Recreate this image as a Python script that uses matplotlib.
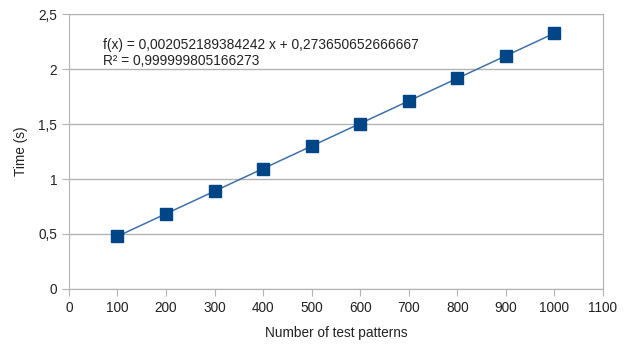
import matplotlib
matplotlib.use("Agg")
import numpy as np
import matplotlib.pyplot as plt
from matplotlib.ticker import FuncFormatter

plt.rcParams['font.family'] = ['Liberation Sans', 'DejaVu Sans']

patterns = [100, 200, 300, 400, 500, 600, 700, 800, 900, 1000]
times = [0.48, 0.68, 0.89, 1.09, 1.30, 1.50, 1.71, 1.92, 2.12, 2.33]
slope = 0.002052189384242
intercept = 0.273650652666667
r2 = 0.999999805166273

fig = plt.figure(figsize=(6.32, 3.44), dpi=100)
ax = fig.add_axes([0.109, 0.160, 0.845, 0.799])

# trend line
xs = np.array([patterns[0], patterns[-1]])
ax.plot(xs, slope * xs + intercept, color='#3f72a8', lw=1.1, zorder=3)
ax.plot(patterns, times, 's', color='#004586', ms=8.5, zorder=4)

ax.set_xlim(0, 1100)
ax.set_ylim(0, 2.5)
ax.set_xticks(np.arange(0, 1101, 100))
ax.set_yticks(np.arange(0, 2.51, 0.5))
comma = FuncFormatter(lambda v, p: ('%g' % v).replace('.', ','))
ax.xaxis.set_major_formatter(comma)
ax.yaxis.set_major_formatter(comma)
ax.yaxis.grid(True, color='#b3b3b3', lw=1)
ax.set_axisbelow(True)
for s in ax.spines.values():
    s.set_color('#b3b3b3')
ax.tick_params(colors='#b3b3b3', labelcolor='#222222', labelsize=9.8, length=5)

ax.set_xlabel('Number of test patterns', fontsize=9.8, color='#222222', labelpad=8)
ax.set_ylabel('Time (s)', fontsize=9.8, color='#222222', labelpad=7)

ax.text(70, 2.215, 'f(x) = ' + ('%.15f' % slope).replace('.', ',') + ' x + '
        + ('%.15f' % intercept).replace('.', ','), fontsize=9.9, color='#222222', va='center')
ax.text(70, 2.07, 'R² = ' + ('%.15f' % r2).replace('.', ','), fontsize=9.9, color='#222222', va='center')

fig.savefig('out.png', dpi=100)
